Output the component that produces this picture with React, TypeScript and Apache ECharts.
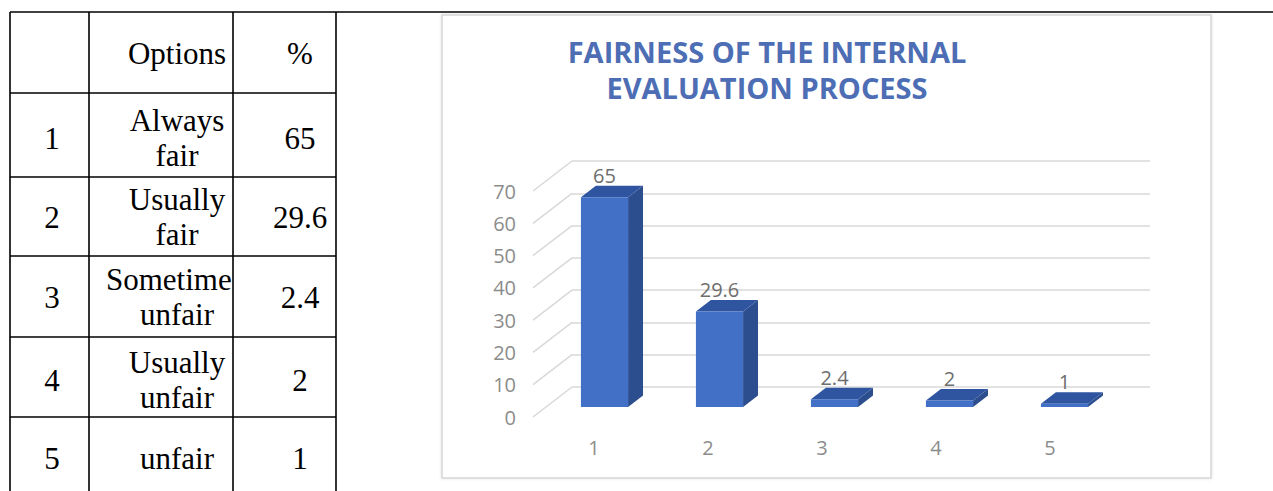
import React, { useEffect, useRef } from "react";
import * as echarts from "echarts";

// ---------- data ----------
const categories = ["1", "2", "3", "4", "5"];
const values = [65, 29.6, 2.4, 2, 1];
const optionLabels = [
  ["Always", "fair"],
  ["Usually", "fair"],
  ["Sometime", "unfair"],
  ["Usually", "unfair"],
  ["unfair"],
];
const tableHeaders = ["", "Options", "%"];
const yTicks = [0, 10, 20, 30, 40, 50, 60, 70];
const titleLines = ["FAIRNESS OF THE INTERNAL", "EVALUATION PROCESS"];

// ---------- layout ----------
const COLS = [10, 89, 233, 336];
const ROWS = [12, 93, 177, 256, 337, 417];
const ROW_CENTERS = [53, 138, 217, 297, 380, 458];
const COL_CENTERS = [52, 177, 300];
const TABLE_FONT = '31px "Liberation Serif"';
const LABEL_FONT = "Open Sans";

function buildTable(): any[] {
  const els: any[] = [];
  const line = (x1: number, y1: number, x2: number, y2: number) => ({
    type: "line",
    shape: { x1, y1, x2, y2 },
    style: { stroke: "#000", lineWidth: 1.6 },
    silent: true,
  });
  // top rule across the page
  els.push(line(COLS[0], ROWS[0], 1273, ROWS[0]));
  COLS.forEach((x) => els.push(line(x, ROWS[0], x, 491)));
  ROWS.slice(1).forEach((y) => els.push(line(COLS[0], y, COLS[3], y)));

  const txt = (s: string, x: number, y: number, align = "center") => ({
    type: "text",
    x,
    y,
    silent: true,
    style: {
      text: s,
      font: TABLE_FONT,
      fill: "#000",
      textAlign: align,
      textVerticalAlign: "middle",
      align,
      verticalAlign: "middle",
    },
  });
  tableHeaders.forEach((h, c) => {
    if (h) els.push(txt(h, COL_CENTERS[c], ROW_CENTERS[0]));
  });
  categories.forEach((cat, i) => {
    const cy = ROW_CENTERS[i + 1];
    els.push(txt(cat, COL_CENTERS[0], cy));
    const lines = optionLabels[i];
    lines.forEach((ln, k) => {
      const yy = lines.length === 1 ? cy : cy + (k === 0 ? -18 : 17);
      if (ln.length > 7) els.push(txt(ln, 106, yy, "left"));
      else els.push(txt(ln, COL_CENTERS[1], yy));
    });
    els.push(txt(String(values[i]), COL_CENTERS[2], cy));
  });
  return els;
}

export default function App() {
  const ref = useRef<HTMLDivElement>(null);

  useEffect(() => {
    if (!ref.current) return;
    const chart = echarts.init(ref.current, null, { renderer: "svg" });

    const option: any = {
      animation: false,
      backgroundColor: "#ffffff",
      grid: [
        // 0: bar front plane
        { left: 547, right: 151, top: 181, bottom: 84 },
        // 1: floor front edge (axis labels)
        { left: 537, right: 166, top: 191, bottom: 74 },
        // 2: back wall (gridlines)
        { left: 572, right: 123, top: 161, bottom: 104 },
      ],
      xAxis: [
        { gridIndex: 0, type: "category", data: categories, show: false },
        {
          gridIndex: 1,
          type: "category",
          data: categories,
          axisLine: { show: false },
          axisTick: { show: false },
          splitLine: { show: false },
          axisLabel: {
            margin: 20,
            color: "#8c8c8c",
            fontSize: 20,
            fontFamily: LABEL_FONT,
          },
        },
        { gridIndex: 2, type: "value", min: 0, max: 1, show: false },
      ],
      yAxis: [
        { gridIndex: 0, type: "value", min: 0, max: 70, show: false },
        {
          gridIndex: 1,
          type: "value",
          min: 0,
          max: 70,
          interval: 10,
          axisLine: { show: false },
          axisTick: { show: false },
          splitLine: { show: false },
          axisLabel: {
            margin: 21,
            color: "#8c8c8c",
            fontSize: 20,
            fontFamily: LABEL_FONT,
          },
        },
        {
          gridIndex: 2,
          type: "value",
          min: 0,
          max: 70,
          interval: 10,
          axisLine: { show: false },
          axisTick: { show: false },
          axisLabel: { show: false },
          splitLine: { show: true, lineStyle: { color: "#d9d9d9", width: 1.5 } },
        },
      ],
      graphic: {
        elements: [
          {
            type: "rect",
            z: -10,
            silent: true,
            shape: { x: 442, y: 15, width: 769, height: 463 },
            style: {
              fill: "#ffffff",
              stroke: "#d6d6d6",
              lineWidth: 1.5,
              shadowBlur: 3,
              shadowColor: "rgba(0,0,0,0.12)",
            },
          },
          ...titleLines.map((t, k) => ({
            type: "text",
            x: 767,
            y: 51 + k * 36,
            silent: true,
            style: {
              text: t,
              font: 'bold 29px "Open Sans"',
              fill: "#4d6db4",
              textAlign: "center",
              textVerticalAlign: "middle",
              align: "center",
              verticalAlign: "middle",
            },
          })),
          ...buildTable(),
        ],
      },
      series: [
        {
          // slanted floor-to-wall lines
          type: "custom",
          xAxisIndex: 1,
          yAxisIndex: 1,
          silent: true,
          z: 1,
          data: yTicks.map((v) => [0, v]),
          renderItem: (params: any, api: any) => {
            const v = api.value(1);
            const p = api.coord([0, v]);
            const x0 = params.coordSys.x - 4;
            return {
              type: "line",
              shape: { x1: x0, y1: p[1], x2: x0 + 39, y2: p[1] - 30 },
              style: { stroke: "#d9d9d9", lineWidth: 1.5 },
            };
          },
        },
        {
          // 3D bars
          type: "custom",
          xAxisIndex: 0,
          yAxisIndex: 0,
          z: 3,
          data: values.map((v, i) => [i, v]),
          renderItem: (params: any, api: any) => {
            const i = api.value(0);
            const v = api.value(1);
            const top = api.coord([i, v]);
            const base = api.coord([i, 0]);
            const band = api.size([1, 0])[0];
            const hw = band * 0.205;
            const dx = band * 0.13;
            const dy = 11.5;
            const xl = top[0] - hw;
            const xr = top[0] + hw;
            const yt = top[1];
            const yb = base[1];
            return {
              type: "group",
              children: [
                {
                  type: "polygon",
                  shape: {
                    points: [
                      [xr, yb],
                      [xr, yt],
                      [xr + dx, yt - dy],
                      [xr + dx, yb - dy],
                    ],
                  },
                  style: { fill: "#2c4d8e" },
                },
                {
                  type: "polygon",
                  shape: {
                    points: [
                      [xl, yt],
                      [xr, yt],
                      [xr + dx, yt - dy],
                      [xl + dx, yt - dy],
                    ],
                  },
                  style: { fill: "#2f55a1" },
                },
                {
                  type: "rect",
                  shape: { x: xl, y: yt, width: xr - xl, height: yb - yt },
                  style: { fill: "#4170c6" },
                },
                {
                  type: "text",
                  x: top[0],
                  y: yt - 22,
                  style: {
                    text: String(v),
                    font: '20px "Open Sans"',
                    fill: "#6e6e6e",
                    textAlign: "center",
                    textVerticalAlign: "middle",
                    align: "center",
                    verticalAlign: "middle",
                  },
                },
              ],
            };
          },
        },
      ],
    };

    chart.setOption(option);
    return () => chart.dispose();
  }, []);

  return (
    <div
      ref={ref}
      style={{ position: "fixed", left: 0, top: 0, width: 1273, height: 491 }}
    />
  );
}
